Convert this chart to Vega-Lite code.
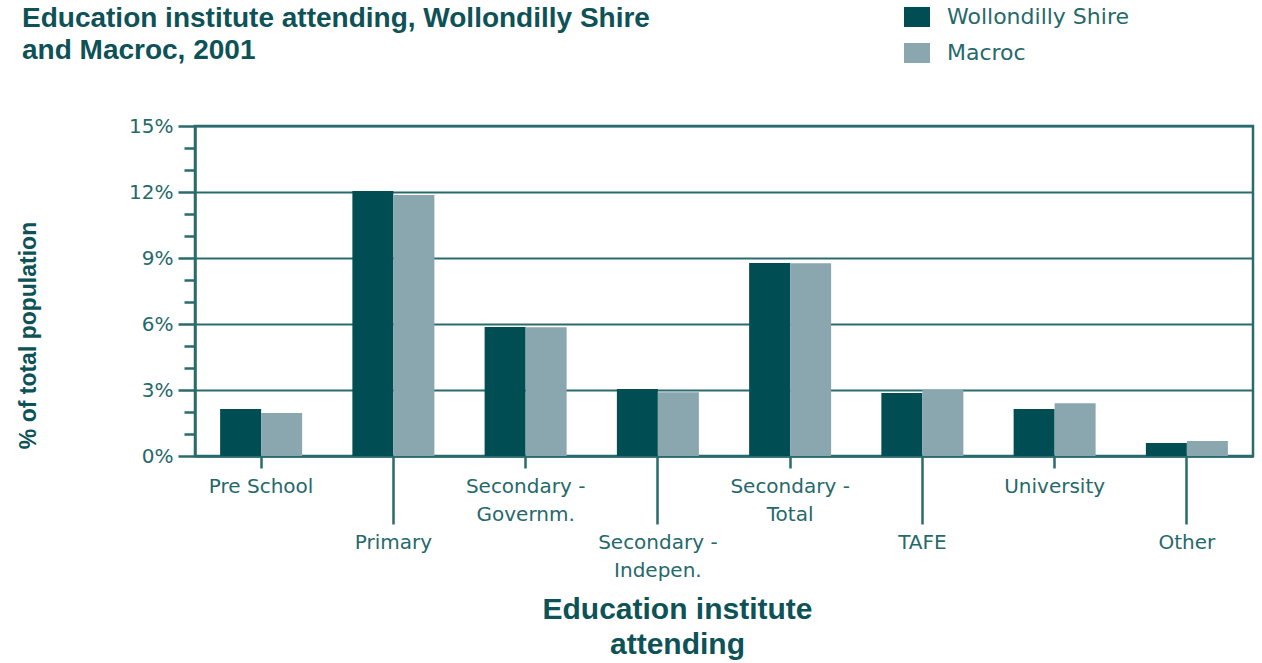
{
  "$schema": "https://vega.github.io/schema/vega-lite/v6.json",
  "autosize": {"type": "none"},
  "padding": {"left": 195, "top": 126, "right": 9, "bottom": 207},
  "width": 1058,
  "height": 330,
  "background": "white",
  "title": {
    "text": ["Education institute attending,  Wollondilly Shire", "and Macroc, 2001"],
    "anchor": "start",
    "frame": "group",
    "orient": "top",
    "dx": -173,
    "offset": -59,
    "font": "Liberation Sans",
    "fontSize": 28,
    "fontWeight": "bold",
    "color": "#0d5257",
    "lineHeight": 32
  },
  "config": {
    "view": {"stroke": "#2a6b6d", "strokeWidth": 2.5},
    "axis": {"labelColor": "#26696b", "labelFont": "DejaVu Sans", "labelFontSize": 20, "domainColor": "#2a6b6d", "domainWidth": 2.5, "tickColor": "#2a6b6d", "tickWidth": 2.5, "gridColor": "#2a6b6d", "gridWidth": 2}
  },
  "data": {
    "values": [
      {"category": "Pre School", "area": "Wollondilly Shire", "pct": 2.14},
      {"category": "Pre School", "area": "Macroc", "pct": 1.95},
      {"category": "Primary", "area": "Wollondilly Shire", "pct": 12.05},
      {"category": "Primary", "area": "Macroc", "pct": 11.86},
      {"category": "Secondary - Governm.", "area": "Wollondilly Shire", "pct": 5.86},
      {"category": "Secondary - Governm.", "area": "Macroc", "pct": 5.85},
      {"category": "Secondary - Indepen.", "area": "Wollondilly Shire", "pct": 3.05},
      {"category": "Secondary - Indepen.", "area": "Macroc", "pct": 2.9},
      {"category": "Secondary - Total", "area": "Wollondilly Shire", "pct": 8.77},
      {"category": "Secondary - Total", "area": "Macroc", "pct": 8.76},
      {"category": "TAFE", "area": "Wollondilly Shire", "pct": 2.86},
      {"category": "TAFE", "area": "Macroc", "pct": 3.0},
      {"category": "University", "area": "Wollondilly Shire", "pct": 2.14},
      {"category": "University", "area": "Macroc", "pct": 2.4},
      {"category": "Other", "area": "Wollondilly Shire", "pct": 0.59},
      {"category": "Other", "area": "Macroc", "pct": 0.68}
    ]
  },
  "mark": {"type": "bar"},
  "encoding": {
    "x": {
      "field": "category",
      "type": "nominal",
      "sort": null,
      "scale": {"paddingInner": 0.38, "paddingOuter": 0.19},
      "axis": {
        "labelAngle": 0,
        "labelExpr": "split(replace(datum.label, '- ', '-|'), '|')",
        "labelLineHeight": 28,
        "labelBaseline": "top",
        "labelPadding": 8,
        "tickSize": {"condition": {"test": "indexof(['Primary','Secondary - Indepen.','TAFE','Other'], datum.value) >= 0", "value": 68}, "value": 12},
        "title": ["Education institute", "attending"],
        "titleFont": "Liberation Sans",
        "titleFontSize": 30,
        "titleFontWeight": "bold",
        "titleColor": "#0d5257",
        "titleX": 482,
        "titleY": 138,
        "titleAlign": "center",
        "titleBaseline": "top",
        "titleLineHeight": 35
      }
    },
    "xOffset": {"field": "area", "type": "nominal", "sort": ["Wollondilly Shire", "Macroc"], "scale": {"paddingInner": 0, "paddingOuter": 0}},
    "y": {
      "field": "pct",
      "type": "quantitative",
      "scale": {"domain": [0, 15], "nice": false},
      "axis": {
        "values": [0,1,2,3,4,5,6,7,8,9,10,11,12,13,14,15],
        "labelExpr": "datum.value % 3 == 0 ? datum.value + '%' : ''",
        "tickSize": {"condition": {"test": "datum.value % 3 == 0", "value": 17}, "value": 11},
        "gridOpacity": {"condition": {"test": "datum.value % 3 == 0", "value": 1}, "value": 0},
        "labelPadding": 5,
        "title": "% of total population",
        "titleFont": "Liberation Sans",
        "titleFontSize": 23,
        "titleFontWeight": "bold",
        "titleColor": "#0d5257",
        "titleX": -167,
        "titleY": 209,
        "titleAngle": -90,
        "titleAlign": "center",
        "titleBaseline": "middle"
      }
    },
    "color": {
      "field": "area",
      "type": "nominal",
      "scale": {"domain": ["Wollondilly Shire", "Macroc"], "range": ["#004e53", "#8aa7af"]},
      "legend": {
        "title": null,
        "orient": "none",
        "legendX": 711,
        "legendY": -120,
        "symbolType": "M-1.3,-1H1.3V1H-1.3Z",
        "symbolSize": 400,
        "symbolStrokeWidth": 0,
        "symbolOpacity": 1,
        "labelFont": "DejaVu Sans",
        "labelFontSize": 22,
        "labelColor": "#26696b",
        "labelOffset": 19,
        "labelLimit": 400,
        "rowPadding": 14
      }
    }
  }
}
